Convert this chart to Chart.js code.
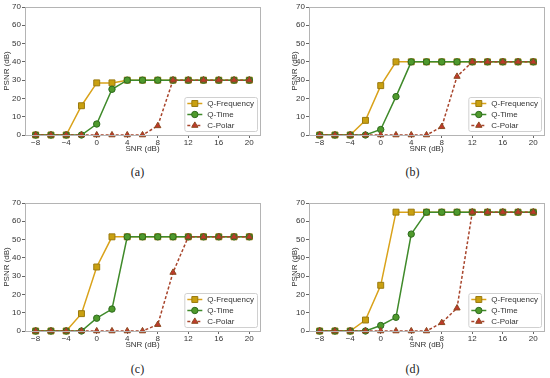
<!DOCTYPE html>
<html>
<head>
<meta charset="utf-8">
<script src="https://cdn.jsdelivr.net/npm/chart.js@4/dist/chart.umd.min.js"></script>
<style>
  body { margin: 0; background: #fff; width: 550px; height: 378px; position: relative; overflow: hidden; }
  canvas { position: absolute; }
  .cap { position: absolute; width: 275px; text-align: center; font-family: "Liberation Serif", "DejaVu Serif", serif; font-size: 12px; color: #222; }
</style>
</head>
<body>
<canvas id="chartA" width="275" height="165" style="left:0;top:0"></canvas>
<canvas id="chartB" width="275" height="165" style="left:275px;top:0"></canvas>
<canvas id="chartC" width="275" height="165" style="left:0;top:196px"></canvas>
<canvas id="chartD" width="275" height="165" style="left:275px;top:196px"></canvas>
<div class="cap" style="left:0;top:165px">(a)</div>
<div class="cap" style="left:275px;top:165px">(b)</div>
<div class="cap" style="left:0;top:362px">(c)</div>
<div class="cap" style="left:275px;top:362px">(d)</div>
<script>
// SNR 軸（dB）
const snr = [-8, -6, -4, -2, 0, 2, 4, 6, 8, 10, 12, 14, 16, 18, 20];
const xTicks = [-8, -4, 0, 4, 8, 12, 16, 20];
const seriesNames = ['Q-Frequency', 'Q-Time', 'C-Polar'];

// (a)
const qFreqA  = [0, 0, 0, 16, 28.5, 28.5, 30, 30, 30, 30, 30, 30, 30, 30, 30];
const qTimeA  = [0, 0, 0, 0, 6, 25, 30, 30, 30, 30, 30, 30, 30, 30, 30];
const cPolarA = [0, 0, 0, 0, 0, 0, 0, 0, 5, 30, 30, 30, 30, 30, 30];
// (b)
const qFreqB  = [0, 0, 0, 8, 27, 40, 40, 40, 40, 40, 40, 40, 40, 40, 40];
const qTimeB  = [0, 0, 0, 0, 3, 21, 40, 40, 40, 40, 40, 40, 40, 40, 40];
const cPolarB = [0, 0, 0, 0, 0, 0, 0, 0, 4.5, 32, 40, 40, 40, 40, 40];
// (c)
const qFreqC  = [0, 0, 0, 9.5, 35, 51.5, 51.5, 51.5, 51.5, 51.5, 51.5, 51.5, 51.5, 51.5, 51.5];
const qTimeC  = [0, 0, 0, 0, 7, 12, 51.5, 51.5, 51.5, 51.5, 51.5, 51.5, 51.5, 51.5, 51.5];
const cPolarC = [0, 0, 0, 0, 0, 0, 0, 0, 3.5, 32, 51.5, 51.5, 51.5, 51.5, 51.5];
// (d)
const qFreqD  = [0, 0, 0, 6, 25, 65, 65, 65, 65, 65, 65, 65, 65, 65, 65];
const qTimeD  = [0, 0, 0, 0, 3, 7.5, 53, 65, 65, 65, 65, 65, 65, 65, 65];
const cPolarD = [0, 0, 0, 0, 0, 0, 0, 0, 4.5, 12.5, 65, 65, 65, 65, 65];

const FONT = '"Liberation Sans", Arial, sans-serif';

const panels = [
  { id: 'chartA', yWidth: 25, yTitlePad: 2,  padRight: 15, data: [qFreqA, qTimeA, cPolarA] },
  { id: 'chartB', yWidth: 34, yTitlePad: 15, padRight: 6,  data: [qFreqB, qTimeB, cPolarB] },
  { id: 'chartC', yWidth: 25, yTitlePad: 2,  padRight: 15, data: [qFreqC, qTimeC, cPolarC] },
  { id: 'chartD', yWidth: 34, yTitlePad: 15, padRight: 6,  data: [qFreqD, qTimeD, cPolarD] }
];

// 後の系列が上に描かれるよう order を指定
const styles = [
  { order: 2, borderColor: '#d9a21a', pointBackgroundColor: '#c9a010', pointBorderColor: '#9a7a10', pointStyle: 'rect', pointRadius: 4.2, borderDash: [] },
  { order: 1, borderColor: '#3f8a2a', pointBackgroundColor: '#4f9a2c', pointBorderColor: '#2d6a1e', pointStyle: 'circle', pointRadius: 3.2, borderDash: [] },
  { order: 0, borderColor: '#a8452c', pointBackgroundColor: '#c0392b', pointBorderColor: '#8b4a20', pointStyle: 'triangle', pointRadius: 3.6, borderDash: [3, 2] }
];

// 枠線
const framePlugin = {
  id: 'frame',
  afterDatasetsDraw(chart) {
    const { ctx, chartArea: a } = chart;
    ctx.save();
    ctx.strokeStyle = '#b4b4b4';
    ctx.lineWidth = 1;
    ctx.strokeRect(Math.round(a.left) + 0.5, Math.round(a.top) + 0.5, Math.round(a.right - a.left), Math.round(a.bottom - a.top));
    ctx.restore();
  }
};

// 凡例（右下・線＋マーカー）
const legendPlugin = {
  id: 'inLegend',
  afterDraw(chart) {
    const { ctx, chartArea: a } = chart;
    const sets = chart.data.datasets;
    ctx.save();
    ctx.font = '8px ' + FONT;
    const tw = Math.max(...sets.map(d => ctx.measureText(d.label).width));
    const w = 26 + tw, h = 34;
    const bx = a.right - 3 - w, by = a.bottom - 4 - h;
    ctx.fillStyle = 'rgba(255,255,255,0.9)';
    ctx.strokeStyle = '#d0d0d0';
    ctx.lineWidth = 1;
    ctx.beginPath();
    ctx.roundRect(bx + 0.5, by + 0.5, w, h, 2);
    ctx.fill();
    ctx.stroke();
    sets.forEach((d, i) => {
      const y = by + 6.5 + i * 11;
      ctx.strokeStyle = d.borderColor;
      ctx.lineWidth = 1.5;
      ctx.setLineDash(d.borderDash || []);
      ctx.beginPath();
      ctx.moveTo(bx + 3, y);
      ctx.lineTo(bx + 18, y);
      ctx.stroke();
      ctx.setLineDash([]);
      ctx.fillStyle = d.pointBackgroundColor;
      ctx.strokeStyle = d.pointBorderColor;
      ctx.lineWidth = 1;
      Chart.helpers.drawPoint(ctx, { pointStyle: d.pointStyle, radius: d.pointRadius, borderWidth: 1, rotation: 0 }, bx + 10.5, y);
      ctx.fillStyle = '#333';
      ctx.textBaseline = 'middle';
      ctx.fillText(d.label, bx + 23, y + 0.5);
    });
    ctx.restore();
  }
};

panels.forEach(p => {
  const el = document.getElementById(p.id);
  new Chart(el, {
    type: 'line',
    data: {
      datasets: p.data.map((vals, i) => Object.assign({
        label: seriesNames[i],
        data: snr.map((x, k) => ({ x, y: vals[k] })),
        borderWidth: 1.5,
        pointBorderWidth: 1,
        clip: false,
        tension: 0
      }, styles[i]))
    },
    options: {
      responsive: false,
      animation: false,
      devicePixelRatio: 1,
      layout: { padding: { left: 0, top: 7, right: p.padRight, bottom: 11 } },
      plugins: { legend: { display: false }, tooltip: { enabled: false } },
      scales: {
        x: {
          type: 'linear',
          min: -9.4,
          max: 21.4,
          afterBuildTicks: s => { s.ticks = xTicks.map(v => ({ value: v })); },
          afterFit: s => { s.height = 19; },
          grid: { display: true, drawOnChartArea: false, drawTicks: true, tickLength: 3, color: '#666' },
          border: { display: true, color: '#b4b4b4' },
          ticks: {
            padding: 0,
            color: '#333',
            font: { family: FONT, size: 8 },
            maxRotation: 0,
            callback: v => String(v).replace('-', '\u2212')
          },
          title: { display: true, text: 'SNR (dB)', color: '#333', font: { family: FONT, size: 8 }, padding: { top: 0, bottom: 0 } }
        },
        y: {
          min: 0,
          max: 70,
          afterFit: s => { s.width = p.yWidth; },
          grid: { display: true, drawOnChartArea: false, drawTicks: true, tickLength: 3, color: '#666' },
          border: { display: true, color: '#b4b4b4' },
          ticks: { stepSize: 10, padding: 1, color: '#333', font: { family: FONT, size: 8 } },
          title: { display: true, text: 'PSNR (dB)', color: '#333', font: { family: FONT, size: 8 }, padding: { top: p.yTitlePad, bottom: 0 } }
        }
      }
    },
    plugins: [framePlugin, legendPlugin]
  });
});
</script>
</body>
</html>
